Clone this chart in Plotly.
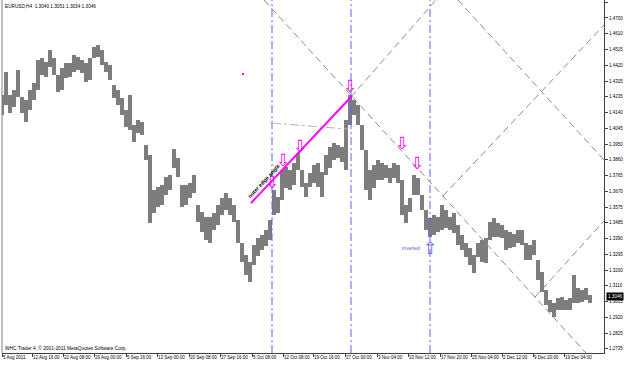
import plotly.graph_objects as go

# ---------------- data ----------------
symbol_title = "EURUSD,H4  1.3040 1.3051 1.3034 1.3046"
copyright_text = "WHC Trader 4, © 2001-2011 MetaQuotes Software Corp."
last_price = 1.3046

# sampled H4 bars (every 4th bar): high / low
bar_index = list(range(0, 589, 4))
highs = [
    1.4242, 1.4379, 1.4242, 1.4272, 1.4391, 1.4230, 1.4212, 1.4272, 1.4313, 1.4450,
    1.4462, 1.4438, 1.4510, 1.4462, 1.4361, 1.4402, 1.4432, 1.4432, 1.4480, 1.4468,
    1.4450, 1.4432, 1.4462, 1.4527, 1.4539, 1.4510, 1.4438, 1.4420, 1.4301, 1.4272,
    1.4224, 1.4153, 1.4242, 1.4063, 1.4093, 1.4081, 1.3944, 1.3885, 1.3677, 1.3694,
    1.3706, 1.3754, 1.3766, 1.3920, 1.3867, 1.3706, 1.3706, 1.3718, 1.3766, 1.3587,
    1.3546, 1.3516, 1.3516, 1.3540, 1.3587, 1.3629, 1.3659, 1.3629, 1.3587, 1.3498,
    1.3361, 1.3290, 1.3248, 1.3349, 1.3391, 1.3409, 1.3439, 1.3498, 1.3677, 1.3635,
    1.3796, 1.3813, 1.3796, 1.3837, 1.3897, 1.3796, 1.3718, 1.3778, 1.3825, 1.3837,
    1.3784, 1.3885, 1.3932, 1.3956, 1.3944, 1.3932, 1.4093, 1.4242, 1.4212, 1.4182,
    1.4063, 1.3915, 1.3796, 1.3825, 1.3855, 1.3837, 1.3825, 1.3807, 1.3837, 1.3825,
    1.3736, 1.3587, 1.3629, 1.3766, 1.3748, 1.3647, 1.3558, 1.3510, 1.3528, 1.3516,
    1.3587, 1.3558, 1.3516, 1.3540, 1.3468, 1.3409, 1.3361, 1.3331, 1.3290, 1.3361,
    1.3379, 1.3391, 1.3486, 1.3510, 1.3480, 1.3468, 1.3439, 1.3427, 1.3415, 1.3439,
    1.3439, 1.3361, 1.3349, 1.3379, 1.3260, 1.3189, 1.3082, 1.3022, 1.3004, 1.3034,
    1.3040, 1.3022, 1.3034, 1.3171, 1.3093, 1.3082, 1.3093, 1.3052,
]
lows = [
    1.4123, 1.4182, 1.4135, 1.4170, 1.4230, 1.4135, 1.4081, 1.4153, 1.4212, 1.4272,
    1.4361, 1.4349, 1.4408, 1.4361, 1.4260, 1.4272, 1.4343, 1.4349, 1.4379, 1.4391,
    1.4373, 1.4319, 1.4331, 1.4462, 1.4468, 1.4420, 1.4379, 1.4331, 1.4224, 1.4182,
    1.4123, 1.4051, 1.4034, 1.3962, 1.4016, 1.4004, 1.3855, 1.3480, 1.3540, 1.3575,
    1.3587, 1.3647, 1.3677, 1.3807, 1.3754, 1.3575, 1.3587, 1.3629, 1.3659, 1.3486,
    1.3427, 1.3379, 1.3361, 1.3439, 1.3468, 1.3528, 1.3558, 1.3528, 1.3486, 1.3361,
    1.3248, 1.3171, 1.3129, 1.3230, 1.3284, 1.3320, 1.3343, 1.3379, 1.3528, 1.3540,
    1.3617, 1.3688, 1.3677, 1.3706, 1.3796, 1.3694, 1.3635, 1.3694, 1.3718, 1.3694,
    1.3635, 1.3766, 1.3807, 1.3855, 1.3867, 1.3843, 1.3796, 1.4063, 1.4123, 1.4063,
    1.3915, 1.3677, 1.3617, 1.3688, 1.3736, 1.3736, 1.3748, 1.3718, 1.3748, 1.3718,
    1.3528, 1.3480, 1.3546, 1.3647, 1.3647, 1.3558, 1.3439, 1.3397, 1.3409, 1.3427,
    1.3439, 1.3450, 1.3439, 1.3421, 1.3349, 1.3320, 1.3278, 1.3230, 1.3183, 1.3278,
    1.3248, 1.3242, 1.3379, 1.3397, 1.3397, 1.3391, 1.3320, 1.3331, 1.3337, 1.3361,
    1.3349, 1.3260, 1.3260, 1.3290, 1.3141, 1.3070, 1.2992, 1.2951, 1.2921, 1.2963,
    1.2963, 1.2963, 1.2963, 1.3004, 1.3004, 1.3010, 1.3022, 1.3004,
]

# time axis labels (bar index of each label)
time_ticks = [0, 30, 61, 92, 124, 155, 187, 218, 250, 281, 311, 343, 375, 406, 438, 469, 500, 531, 562]
time_labels = ["5 Aug 2011", "12 Aug 16:00", "22 Aug 08:00", "29 Aug 00:00", "5 Sep 16:00",
               "13 Sep 00:00", "20 Sep 08:00", "27 Sep 16:00", "5 Oct 08:00", "12 Oct 08:00",
               "19 Oct 16:00", "27 Oct 00:00", "3 Nov 04:00", "10 Nov 12:00", "17 Nov 20:00",
               "25 Nov 04:00", "2 Dec 12:00", "9 Dec 20:00", "19 Dec 04:00"]

price_ticks = [1.4795, 1.4700, 1.4610, 1.4515, 1.4420, 1.4325, 1.4235, 1.4140, 1.4045, 1.3950,
               1.3860, 1.3765, 1.3670, 1.3575, 1.3485, 1.3390, 1.3295, 1.3200, 1.3110, 1.3015,
               1.2920, 1.2825, 1.2735]

# vertical time lines (bar index)
vlines = [270, 349, 428]

# gray dashed angle lines: (bar0, price0, bar1, price1)
angle_lines = [
    (262, 1.4807, 584, 1.2707),
    (349, 1.4230, 434, 1.4807),
    (456, 1.4807, 602, 1.3855),
    (441, 1.3641, 602, 1.4658),
    (533, 1.3040, 602, 1.3492),
]
# gray dash-dot reference line
ref_line = (270, 1.4075, 346, 1.4039)
# magenta "outer edge angle" line
edge_line = (249, 1.3599, 350, 1.4236)
edge_label = "outer edge angle"
edge_label_pos = (262, 1.3728)

# signal arrows
down_arrows_bar = [270, 281, 298, 348, 400, 415]
down_arrows_price = [1.3724, 1.3855, 1.3938, 1.4295, 1.3956, 1.3837]
up_arrow = (428, 1.3331)
up_arrow_label = "inverted"
marker_dot = (241, 1.4367)

# ---------------- figure ----------------
Y0, Y1 = 1.2707, 1.4807
GRAY = "#7d7d7d"
BLUE = "#6060f0"
MAG = "#ff00ff"
FONT = "Liberation Sans"

fig = go.Figure()

fig.add_trace(go.Bar(
    x=bar_index, base=lows, y=[h - l for h, l in zip(highs, lows)],
    width=4, marker=dict(color=GRAY, line=dict(width=0)),
    hoverinfo="skip", showlegend=False,
))

shapes = []
for v in vlines:
    shapes.append(dict(type="line", xref="x", yref="paper", x0=v, x1=v, y0=0, y1=1,
                       line=dict(color=BLUE, width=1, dash="8px,3px,2px,3px"), layer="above"))
for (a0, p0, a1, p1) in angle_lines:
    shapes.append(dict(type="line", xref="x", yref="y", x0=a0, y0=p0, x1=a1, y1=p1,
                       line=dict(color="#8c8c8c", width=1, dash="7px,4px"), layer="above"))
a0, p0, a1, p1 = ref_line
shapes.append(dict(type="line", xref="x", yref="y", x0=a0, y0=p0, x1=a1, y1=p1,
                   line=dict(color="#b4b4b4", width=1, dash="dashdot"), layer="above"))
a0, p0, a1, p1 = edge_line
shapes.append(dict(type="line", xref="x", yref="y", x0=a0, y0=p0, x1=a1, y1=p1,
                   line=dict(color=MAG, width=2), layer="above"))
# left frame border
shapes.append(dict(type="line", xref="paper", yref="paper", x0=0, x1=0, y0=0, y1=1,
                   line=dict(color="#808080", width=1)))

annotations = []
for b, p in zip(down_arrows_bar, down_arrows_price):
    annotations.append(dict(x=b, y=p, xref="x", yref="y", text="⇩", showarrow=False,
                            font=dict(family="DejaVu Sans", size=17, color=MAG)))
annotations.append(dict(x=up_arrow[0], y=up_arrow[1], xref="x", yref="y", text="⇧",
                        showarrow=False, font=dict(family="DejaVu Sans", size=17, color=BLUE)))
annotations.append(dict(x=up_arrow[0], y=up_arrow[1], xref="x", yref="y", text=up_arrow_label,
                        xanchor="right", xshift=-8, showarrow=False,
                        font=dict(family=FONT, size=5, color=BLUE)))
annotations.append(dict(x=edge_label_pos[0], y=edge_label_pos[1], xref="x", yref="y",
                        text="<b>" + edge_label + "</b>", textangle=-47, showarrow=False,
                        font=dict(family=FONT, size=5.5, color="black")))
annotations.append(dict(x=0, y=1, xref="paper", yref="paper", xanchor="left", yanchor="top",
                        xshift=1, yshift=-2, text=symbol_title, showarrow=False,
                        font=dict(family=FONT, size=4.7, color="black")))
annotations.append(dict(x=0, y=0, xref="paper", yref="paper", xanchor="left", yanchor="bottom",
                        xshift=1, yshift=0, text=copyright_text, showarrow=False,
                        font=dict(family=FONT, size=4.8, color="black")))
annotations.append(dict(x=1, y=last_price, xref="paper", yref="y", xanchor="left",
                        xshift=2, text=f"{last_price:.4f}", showarrow=False, bgcolor="black",
                        borderpad=1, font=dict(family=FONT, size=4.6, color="white")))

fig.add_trace(go.Scatter(x=[marker_dot[0]], y=[marker_dot[1]], mode="markers",
                         marker=dict(symbol="square", size=2, color=MAG),
                         hoverinfo="skip", showlegend=False))

fig.update_layout(
    width=625, height=365,
    margin=dict(l=2, r=21, t=0, b=12),
    paper_bgcolor="white", plot_bgcolor="white",
    showlegend=False, bargap=0,
    shapes=shapes, annotations=annotations,
    xaxis=dict(range=[0, 602], showgrid=False, zeroline=False, showline=True,
               linecolor="#404040", linewidth=1, ticks="outside", ticklen=3,
               tickcolor="#404040", tickvals=time_ticks, ticktext=time_labels,
               ticklabelposition="outside right", tickangle=0,
               tickfont=dict(family=FONT, size=4.5, color="black")),
    yaxis=dict(range=[Y0, Y1], side="right", showgrid=False, zeroline=False, showline=True,
               linecolor="#404040", linewidth=1, ticks="outside", ticklen=3,
               tickcolor="#404040", tickvals=price_ticks,
               ticktext=[f"{t:.4f}" for t in price_ticks],
               tickfont=dict(family=FONT, size=4.5, color="black")),
)

fig.write_html("out.html")
